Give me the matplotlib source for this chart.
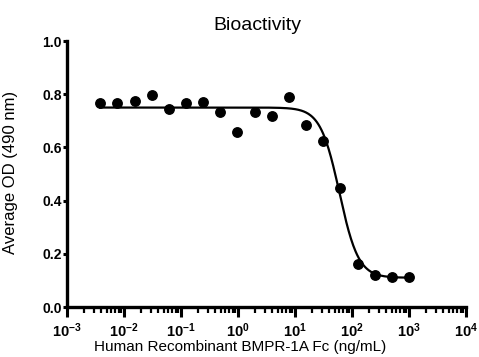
import numpy as np
import matplotlib
matplotlib.use("Agg")
import matplotlib.pyplot as plt
from matplotlib.ticker import FixedLocator, LogLocator, NullFormatter

plt.rcParams['font.family'] = ['Liberation Sans', 'DejaVu Sans']
plt.rcParams['mathtext.fontset'] = 'custom'
plt.rcParams['mathtext.rm'] = 'Liberation Sans'
plt.rcParams['mathtext.bf'] = 'Liberation Sans:bold'

conc = [0.0038, 0.0076, 0.0153, 0.0305, 0.061, 0.122, 0.244, 0.488, 0.977,
        1.95, 3.91, 7.81, 15.6, 31.25, 62.5, 125, 250, 500, 1000]
od = [0.767, 0.767, 0.774, 0.797, 0.744, 0.767, 0.771, 0.733, 0.658,
      0.733, 0.718, 0.790, 0.684, 0.624, 0.447, 0.162, 0.120, 0.113, 0.113]

# four-parameter logistic fit parameters
fit_top, fit_bottom, fit_ec50, fit_hill = 0.750, 0.110, 60.0, 2.6

xtick_vals = [1e-3, 1e-2, 1e-1, 1e0, 1e1, 1e2, 1e3, 1e4]
xtick_labels = [r'$\mathbf{10^{-3}}$', r'$\mathbf{10^{-2}}$', r'$\mathbf{10^{-1}}$',
                r'$\mathbf{10^{0}}$', r'$\mathbf{10^{1}}$', r'$\mathbf{10^{2}}$',
                r'$\mathbf{10^{3}}$', r'$\mathbf{10^{4}}$']
ytick_vals = [0.0, 0.2, 0.4, 0.6, 0.8, 1.0]
ytick_labels = ['0.0', '0.2', '0.4', '0.6', '0.8', '1.0']

fig = plt.figure(figsize=(4.79, 3.57), dpi=100)
ax = fig.add_axes([0.140, 0.140, 0.833, 0.745])

xs = np.logspace(np.log10(min(conc)), np.log10(max(conc)), 400)
ys = fit_bottom + (fit_top - fit_bottom) / (1 + (xs / fit_ec50) ** fit_hill)
ax.plot(xs, ys, color='black', lw=1.6, zorder=2)
ax.plot(conc, od, 'o', color='black', ms=6.8, zorder=3, clip_on=False)

ax.set_xscale('log')
ax.set_xlim(1e-3, 1e4)
ax.set_ylim(0, 1.0)
ax.xaxis.set_major_locator(FixedLocator(xtick_vals))
ax.set_xticklabels(xtick_labels)
ax.xaxis.set_minor_locator(LogLocator(base=10, subs=np.arange(2, 10), numticks=20))
ax.xaxis.set_minor_formatter(NullFormatter())
ax.set_yticks(ytick_vals)
ax.set_yticklabels(ytick_labels, fontweight='bold')

for s in ['top', 'right']:
    ax.spines[s].set_visible(False)
for s in ['left', 'bottom']:
    ax.spines[s].set_linewidth(2.4)

ax.tick_params(axis='x', which='major', length=7, width=2.2, labelsize=10.5, pad=3)
ax.tick_params(axis='x', which='minor', length=4, width=1.6)
ax.tick_params(axis='y', which='major', length=3, width=2.2, labelsize=10, pad=1)
for lab in ax.get_yticklabels():
    lab.set_fontweight('bold')

ax.set_title('Bioactivity', fontsize=14, pad=8, x=0.476)
ax.set_xlabel('Human Recombinant BMPR-1A Fc (ng/mL)', fontsize=11)
ax.xaxis.set_label_coords(0.434, -0.125)
ax.set_ylabel('Average OD (490 nm)', fontsize=12)
ax.yaxis.set_label_coords(-0.123, 0.505)

fig.savefig('out.png', dpi=100)
